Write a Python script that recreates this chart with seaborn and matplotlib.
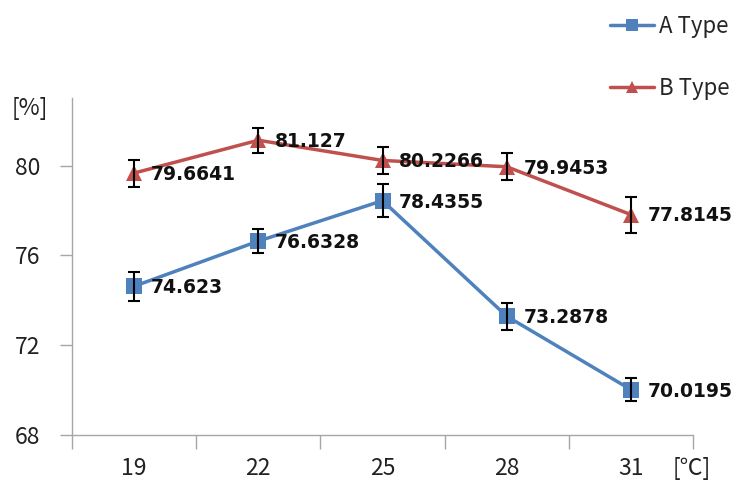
import matplotlib
matplotlib.use("Agg")
import matplotlib.pyplot as plt
from matplotlib.lines import Line2D
import seaborn as sns
import pandas as pd

# Temperatures (categories) and measured values per type
temperatures = ["19", "22", "25", "28", "31"]
a_values = [74.623, 76.6328, 78.4355, 73.2878, 70.0195]
b_values = [79.6641, 81.127, 80.2266, 79.9453, 77.8145]
a_errors = [0.65, 0.55, 0.75, 0.6, 0.5]
b_errors = [0.6, 0.55, 0.6, 0.6, 0.8]
series_names = ["A Type", "B Type"]
y_ticks = [68, 72, 76, 80]

sns.set_theme(style="white")
plt.rcParams["font.family"] = ["Noto Sans CJK KR", "DejaVu Sans"]

df = pd.DataFrame({
    "temp": temperatures * 2,
    "value": a_values + b_values,
    "series": [series_names[0]] * len(temperatures) + [series_names[1]] * len(temperatures),
})

colors = {"A Type": "#4F81BD", "B Type": "#C0504D"}
markers = {"A Type": "s", "B Type": "^"}
axis_grey = "#A6A6A6"
text_col = "#222222"

fig = plt.figure(figsize=(7.42, 4.86), dpi=100)
ax = fig.add_axes([0.097, 0.105, 0.837, 0.693])

sns.lineplot(data=df, x="temp", y="value", hue="series", style="series",
             palette=colors, markers=markers, dashes=False, markersize=11,
             linewidth=2.5, markeredgewidth=0, ax=ax, legend=False, sort=False)

pos = list(range(len(temperatures)))
for vals, errs in ((a_values, a_errors), (b_values, b_errors)):
    ax.errorbar(pos, vals, yerr=errs, fmt="none", ecolor="black",
                elinewidth=1.5, capsize=4, capthick=1.5, zorder=5)

# Value labels to the right of each point
for vals in (a_values, b_values):
    for i, v in enumerate(vals):
        ax.annotate(f"{v:g}", (i, v), xytext=(12, -1), textcoords="offset points",
                    ha="left", va="center", fontsize=13.5, fontweight="bold",
                    family="DejaVu Sans", color="#111111")

ax.set_xlim(-0.5, len(temperatures) - 0.5)
ax.set_ylim(68, 83)
ax.set_yticks(y_ticks)
ax.set_yticklabels([str(t) for t in y_ticks], fontsize=16.5, color=text_col)

# Category labels centered, tick marks on category boundaries
ax.set_xticks([p - 0.5 for p in pos] + [len(temperatures) - 0.5])
ax.set_xticklabels([])
ax.tick_params(axis="x", direction="out", length=10, width=1,
               color=axis_grey, bottom=True)
ax.tick_params(axis="y", direction="out", length=9, width=1, color=axis_grey,
               left=True, pad=14)
for i, t in enumerate(temperatures):
    ax.text(i, -0.1, t, transform=ax.get_xaxis_transform(), ha="center",
            va="center", fontsize=16.5, color=text_col)

ax.set_xlabel("")
ax.set_ylabel("")
for side in ("top", "right"):
    ax.spines[side].set_visible(False)
for side in ("left", "bottom"):
    ax.spines[side].set_color(axis_grey)
    ax.spines[side].set_linewidth(1)

fig.text(30 / 742, 1 - 108 / 486, "[%]", ha="center", va="center",
         fontsize=16.5, color=text_col)
fig.text(692 / 742, 1 - 468 / 486, "[℃]", ha="center", va="center",
         fontsize=16.5, color=text_col)

# Legend outside the plot in the top-right corner
handles = [Line2D([], [], color=colors[n], marker=markers[n], linewidth=2.5,
                  markersize=9, markeredgewidth=0) for n in series_names]
fig.legend(handles, series_names, loc="upper left",
           bbox_to_anchor=(590 / 742, 1 + 5 / 486), frameon=False,
           fontsize=16, handlelength=2.0, handletextpad=0.2,
           labelspacing=1.75)

fig.savefig("out.png", dpi=100)
